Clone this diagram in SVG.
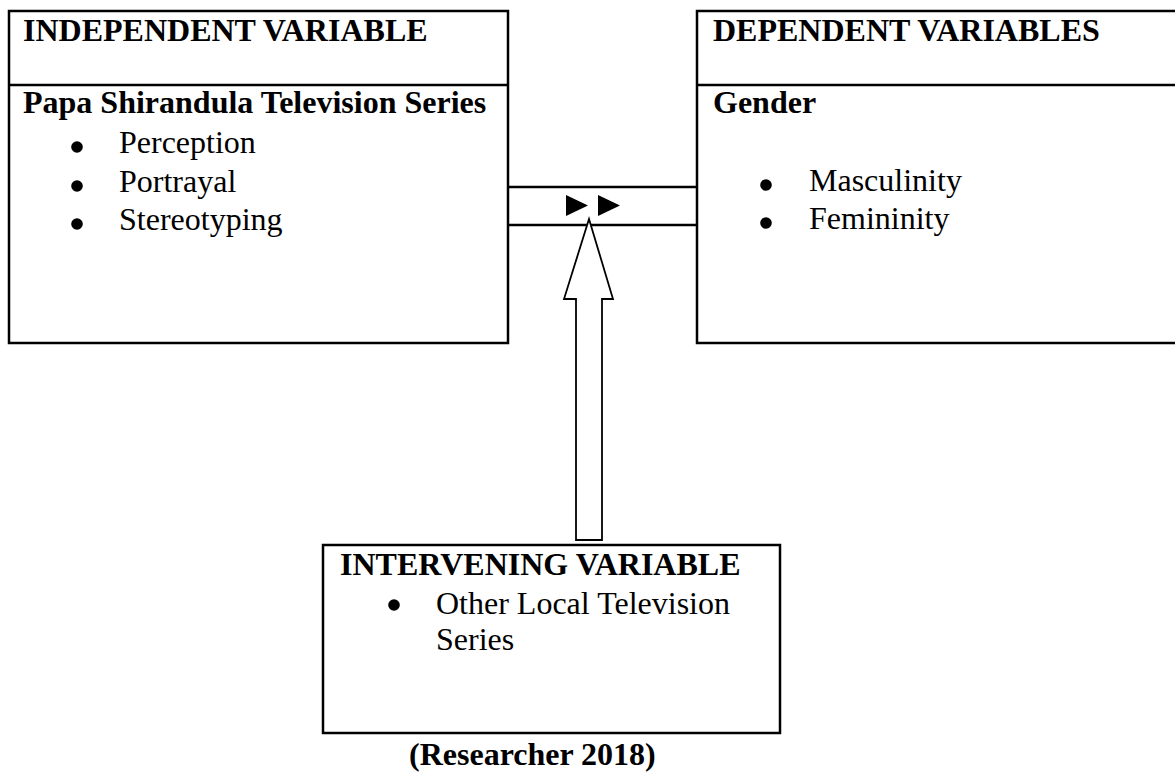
<svg xmlns="http://www.w3.org/2000/svg" width="1175" height="772" viewBox="0 0 1175 772">
<style>
.box{fill:none;stroke:#000;stroke-width:2.5}
.ln{stroke:#000;stroke-width:2.5;fill:none}
.b{font-family:"Liberation Serif","Times New Roman",serif;font-weight:bold;font-size:32px;fill:#000}
.r{font-family:"Liberation Serif","Times New Roman",serif;font-size:32px;fill:#000}
.dot{fill:#000}
</style>
<rect width="1175" height="772" fill="#fff"/>
<g id="independent">
<rect class="box" x="9" y="11" width="499" height="332"/>
<line class="ln" x1="9" y1="85" x2="508" y2="85"/>
<text class="b" x="23" y="41">INDEPENDENT VARIABLE</text>
<text class="b" x="23" y="113">Papa Shirandula Television Series</text>
<circle class="dot" cx="77" cy="147" r="5.8"/>
<text class="r" x="119" y="153">Perception</text>
<circle class="dot" cx="77" cy="186" r="5.8"/>
<text class="r" x="119" y="192">Portrayal</text>
<circle class="dot" cx="77" cy="224" r="5.8"/>
<text class="r" x="119" y="230">Stereotyping</text>
</g>
<g id="dependent">
<rect class="box" x="697" y="11" width="490" height="332"/>
<line class="ln" x1="697" y1="85" x2="1180" y2="85"/>
<text class="b" x="713" y="41">DEPENDENT VARIABLES</text>
<text class="b" x="713" y="113">Gender</text>
<circle class="dot" cx="766" cy="185" r="5.8"/>
<text class="r" x="809" y="191">Masculinity</text>
<circle class="dot" cx="766" cy="223" r="5.8"/>
<text class="r" x="809" y="229">Femininity</text>
</g>
<g id="intervening">
<rect class="box" x="323" y="545" width="457" height="188"/>
<text class="b" x="340" y="575">INTERVENING VARIABLE</text>
<circle class="dot" cx="394" cy="605" r="5.8"/>
<text class="r" x="436" y="614">Other Local Television</text>
<text class="r" x="436" y="650">Series</text>
</g>
<g id="connectors">
<line class="ln" x1="508" y1="187" x2="697" y2="187"/>
<line class="ln" x1="508" y1="225" x2="697" y2="225"/>
<polygon points="566,195 588,205.5 566,216" fill="#000"/>
<polygon points="598,195 620,205.5 598,216" fill="#000"/>
<polygon points="589,219 613,299 602,299 602,540 576,540 576,299 564,299" fill="#fff" stroke="#000" stroke-width="1.8" stroke-linejoin="miter"/>
</g>
<text class="b" x="409" y="765">(Researcher 2018)</text>
</svg>
